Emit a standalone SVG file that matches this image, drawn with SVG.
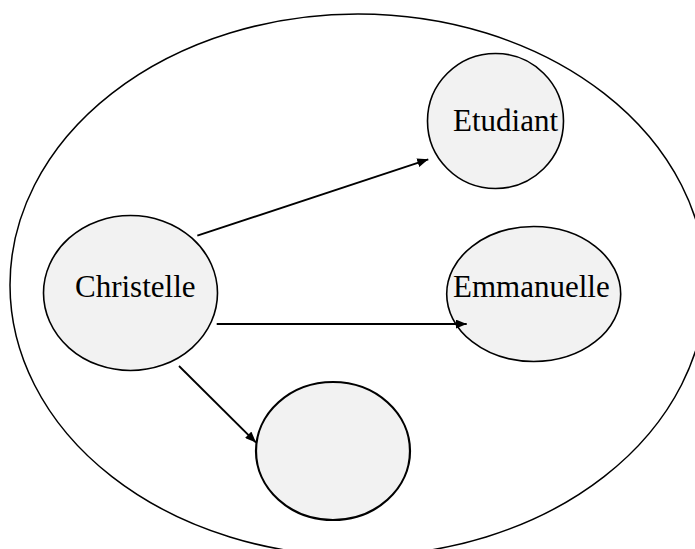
<svg xmlns="http://www.w3.org/2000/svg" width="695" height="549" viewBox="0 0 695 549">
<defs>
<style>
.node{fill:#f2f2f2;stroke:#000;stroke-width:1.6}
.lbl{font-family:"Liberation Serif","Times New Roman",serif;font-size:31px;fill:#000}
.conn{stroke:#000;stroke-width:1.8;fill:none;marker-end:url(#ah)}
</style>
<marker id="ah" viewBox="0 0 11 9" refX="11" refY="4.5" markerWidth="11" markerHeight="9" markerUnits="userSpaceOnUse" orient="auto">
<path d="M0,0 L11,4.5 L0,9 Z" fill="#000"/>
</marker>
</defs>
<rect width="695" height="549" fill="#fff"/>
<g id="outer">
<ellipse cx="358" cy="285" rx="348" ry="271" fill="none" stroke="#000" stroke-width="1.5"/>
</g>
<g id="etudiant">
<ellipse class="node" cx="495.5" cy="121" rx="68" ry="67.5"/>
<text class="lbl" x="453" y="131">Etudiant</text>
</g>
<g id="christelle">
<ellipse class="node" cx="130.5" cy="293" rx="87" ry="77.5"/>
<text class="lbl" x="75" y="297">Christelle</text>
</g>
<g id="emmanuelle">
<ellipse class="node" cx="533.7" cy="294" rx="87" ry="67.5"/>
<text class="lbl" x="453" y="297">Emmanuelle</text>
</g>
<g id="vide">
<ellipse class="node" cx="333" cy="451" rx="77" ry="69" style="stroke-width:2.2"/>
</g>
<g id="connectors">
<line class="conn" x1="197.3" y1="235.7" x2="428.3" y2="159.3"/>
<line class="conn" x1="216.7" y1="324" x2="466.7" y2="324"/>
<line class="conn" x1="179" y1="366" x2="256" y2="442.5"/>
</g>
</svg>
